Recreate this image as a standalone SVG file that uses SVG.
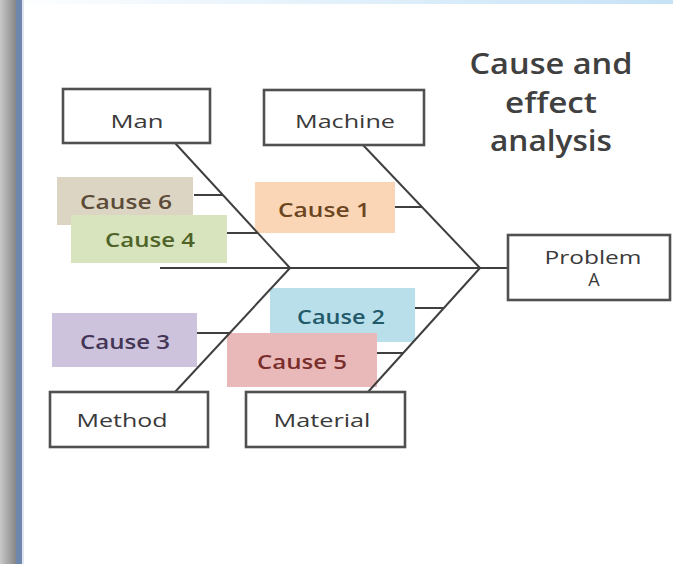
<svg xmlns="http://www.w3.org/2000/svg" width="673" height="564" viewBox="0 0 673 564">
  <defs>
    <linearGradient id="sideBar" x1="0" y1="0" x2="1" y2="0">
      <stop offset="0" stop-color="#c9c9c9"/>
      <stop offset="1" stop-color="#868686"/>
    </linearGradient>
    <linearGradient id="topBar" x1="0" y1="0" x2="1" y2="0">
      <stop offset="0" stop-color="#ffffff"/>
      <stop offset="1" stop-color="#c6e2f6"/>
    </linearGradient>
    <style>
      .bone { stroke: #3f3f3f; stroke-width: 2; fill: none; }
      .box { fill: #ffffff; stroke: #505050; stroke-width: 2.6; }
      .lbl { font-family: "Open Sans", "Liberation Sans", sans-serif; font-size: 18px; font-weight: 500; fill: #3a3a3a; text-anchor: middle; }
      .cause { font-family: "Open Sans", "Liberation Sans", sans-serif; font-size: 19px; font-weight: 600; text-anchor: middle; }
      .title { font-family: "Open Sans", "Liberation Sans", sans-serif; font-size: 28px; font-weight: 600; fill: #404040; text-anchor: middle; }
    </style>
  </defs>

  <!-- page background and frame -->
  <rect x="0" y="0" width="673" height="564" fill="#ffffff"/>
  <rect x="0" y="0" width="673" height="4" fill="url(#topBar)"/>
  <rect x="0" y="0" width="16" height="564" fill="url(#sideBar)"/>
  <rect x="16" y="0" width="6" height="564" fill="#6f86ad"/>
  <rect x="22" y="0" width="2" height="564" fill="#dfe6f0"/>

  <!-- title -->
  <g id="title">
    <text class="title" x="551" y="74" textLength="163" lengthAdjust="spacingAndGlyphs">Cause and</text>
    <text class="title" x="551" y="113" textLength="92" lengthAdjust="spacingAndGlyphs">effect</text>
    <text class="title" x="551" y="151" textLength="122" lengthAdjust="spacingAndGlyphs">analysis</text>
  </g>

  <!-- cause tags (backgrounds drawn beneath bones) -->
  <g id="cause6">
    <rect x="57" y="177" width="136" height="48" fill="#dcd5c3"/>
    <text class="cause" x="126" y="209" fill="#5b4b38" textLength="92" lengthAdjust="spacingAndGlyphs">Cause 6</text>
  </g>
  <g id="cause4">
    <rect x="71" y="215" width="156" height="48" fill="#d7e4bd"/>
    <text class="cause" x="150" y="247" fill="#4f6228" textLength="90" lengthAdjust="spacingAndGlyphs">Cause 4</text>
  </g>
  <g id="cause1">
    <rect x="255" y="182" width="140" height="51" fill="#fbd6b6"/>
    <text class="cause" x="324" y="217" fill="#6b4520" textLength="92" lengthAdjust="spacingAndGlyphs">Cause 1</text>
  </g>
  <g id="cause3">
    <rect x="52" y="313" width="145" height="54" fill="#cdc3dc"/>
    <text class="cause" x="125" y="349" fill="#433556" textLength="90" lengthAdjust="spacingAndGlyphs">Cause 3</text>
  </g>
  <g id="cause2">
    <rect x="270" y="288" width="145" height="54" fill="#b9dfea"/>
    <text class="cause" x="341" y="324" fill="#225a6a" textLength="88" lengthAdjust="spacingAndGlyphs">Cause 2</text>
  </g>
  <g id="cause5">
    <rect x="227" y="333" width="150" height="54" fill="#e8b9b8"/>
    <text class="cause" x="302" y="369" fill="#7a2e2c" textLength="90" lengthAdjust="spacingAndGlyphs">Cause 5</text>
  </g>

  <!-- fishbone connectors -->
  <g id="connectors">
    <line class="bone" x1="160" y1="268" x2="508" y2="268"/>
    <line class="bone" x1="175" y1="143" x2="290" y2="268"/>
    <line class="bone" x1="363" y1="145" x2="480" y2="268"/>
    <line class="bone" x1="175" y1="392" x2="290" y2="268"/>
    <line class="bone" x1="368" y1="392" x2="480" y2="268"/>
    <line class="bone" x1="194" y1="195" x2="223" y2="195"/>
    <line class="bone" x1="227" y1="233" x2="258" y2="233"/>
    <line class="bone" x1="395" y1="207" x2="422" y2="207"/>
    <line class="bone" x1="197" y1="333" x2="230" y2="333"/>
    <line class="bone" x1="415" y1="308" x2="444" y2="308"/>
    <line class="bone" x1="377" y1="353" x2="403" y2="353"/>
  </g>

  <!-- category boxes -->
  <g id="man">
    <rect class="box" x="63" y="89" width="147" height="54"/>
    <text class="lbl" x="137" y="128" textLength="53" lengthAdjust="spacingAndGlyphs">Man</text>
  </g>
  <g id="machine">
    <rect class="box" x="264" y="90" width="160" height="55"/>
    <text class="lbl" x="345" y="128" textLength="100" lengthAdjust="spacingAndGlyphs">Machine</text>
  </g>
  <g id="method">
    <rect class="box" x="50" y="392" width="158" height="55"/>
    <text class="lbl" x="122" y="427" textLength="91" lengthAdjust="spacingAndGlyphs">Method</text>
  </g>
  <g id="material">
    <rect class="box" x="246" y="392" width="159" height="55"/>
    <text class="lbl" x="322" y="427" textLength="97" lengthAdjust="spacingAndGlyphs">Material</text>
  </g>
  <g id="problem">
    <rect class="box" x="508" y="235" width="162" height="65"/>
    <text class="lbl" x="593" y="264" textLength="97" lengthAdjust="spacingAndGlyphs">Problem</text>
    <text class="lbl" x="594" y="286">A</text>
  </g>
</svg>
